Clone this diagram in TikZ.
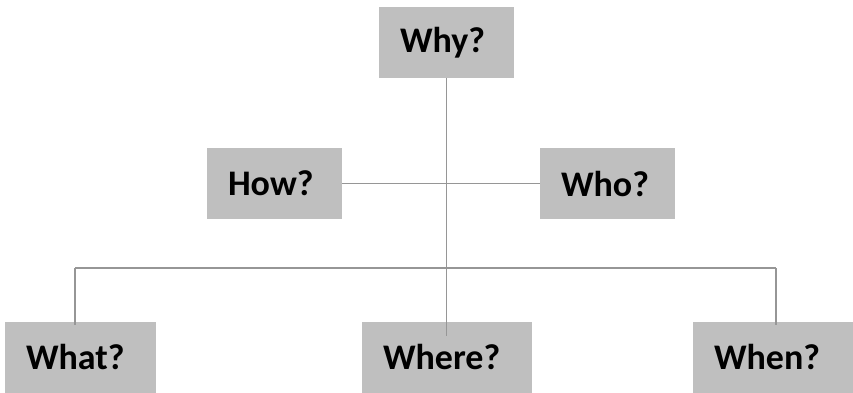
\documentclass[tikz,border=0pt]{standalone}
\usepackage{fontspec}
\setmainfont{Carlito}
\usepackage{tikz}
\usetikzlibrary{calc}

\definecolor{boxgray}{RGB}{191,191,191}
\definecolor{linegray}{RGB}{150,150,150}

\tikzset{
  qbox/.style={fill=boxgray, inner xsep=21pt, inner ysep=0pt, minimum height=71pt,
    text width=#1-42pt, align=left, font=\fontsize{36}{43}\selectfont\bfseries},
  conn/.style={draw=linegray, line width=1.2pt}
}

\begin{document}
\begin{tikzpicture}[x=1pt,y=-1pt]
  \useasboundingbox (0,0) rectangle (853,392);
  \node[qbox=135pt] (why)   at (446.5,42.5) {Why?};
  \node[qbox=135pt] (how)   at (274.5,183.5) {How?};
  \node[qbox=135pt] (who)   at (607.5,183.5) {Who?};
  \node[qbox=151pt] (what)  at (80.5,357) {What?};
  \node[qbox=170pt] (where) at (447,357) {Where?};
  \node[qbox=160pt] (when)  at (773,357) {When?};
  \coordinate (busL) at (75,268);
  \coordinate (busR) at (776,268);
  \draw[conn] (why.south) -- ([yshift=-15pt]why.south |- where.north);
  \draw[conn] (how.east) -- (who.west);
  \draw[conn] (busL) -- (busR);
  \draw[conn] (busL) -- ([yshift=-4pt]busL |- what.north);
  \draw[conn] (busR) -- ([yshift=-4pt]busR |- when.north);
\end{tikzpicture}
\end{document}
